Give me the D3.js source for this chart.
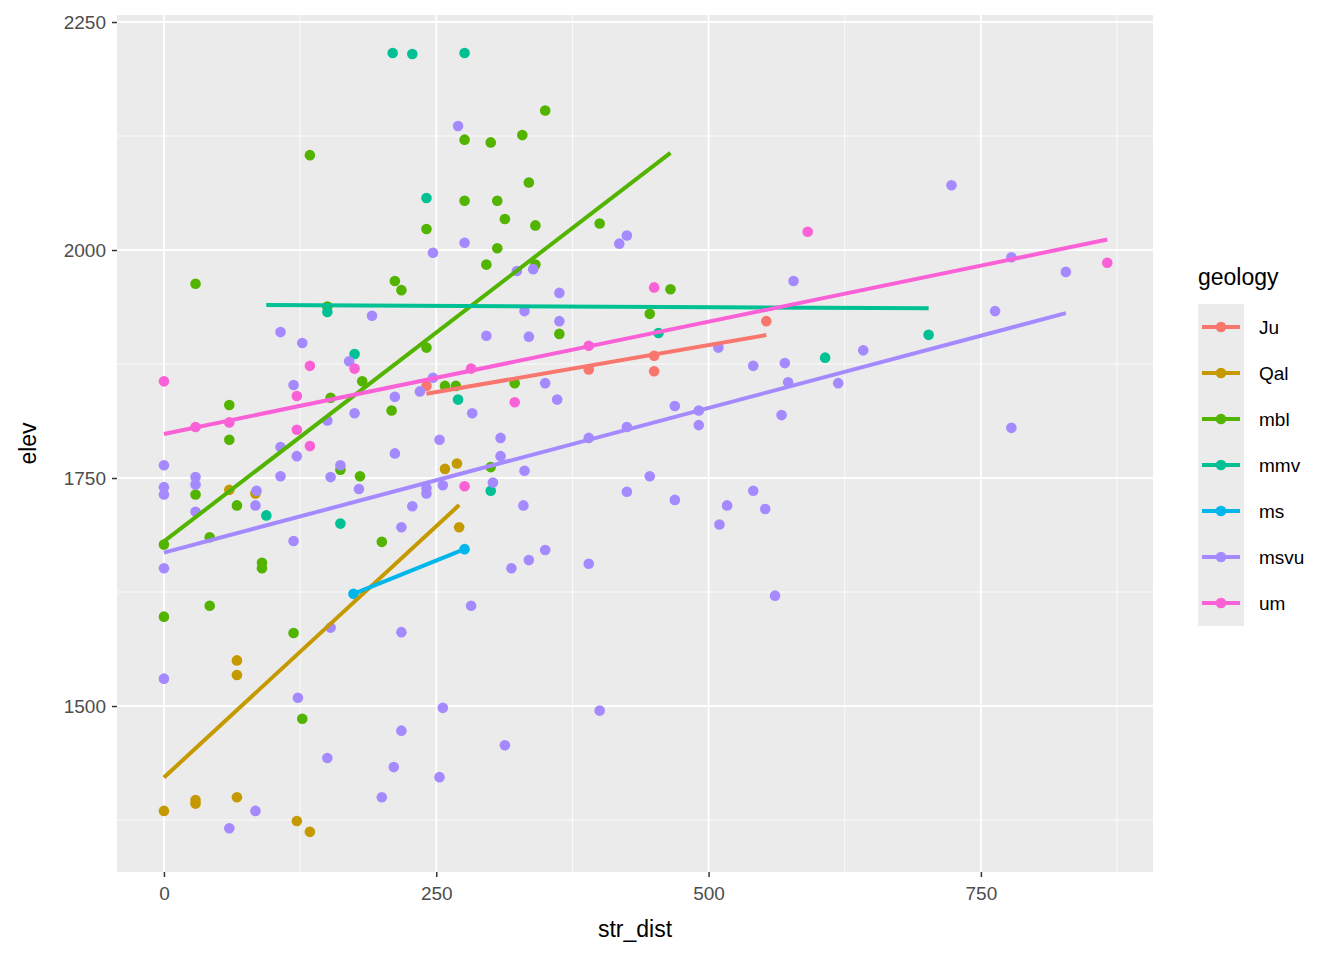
<!DOCTYPE html>
<html><head><meta charset="utf-8">
<script src="https://cdn.jsdelivr.net/npm/d3@7"></script>
<style>body{margin:0;background:#fff}</style>
</head><body><div class="chart"></div>
<script>
const geologies = ["Ju","Qal","mbl","mmv","ms","msvu","um"]
const colours = ["#F8766D","#C49A00","#53B400","#00C094","#00B6EB","#A58AFF","#FB61D7"]
const xTicks = [0,250,500,750]
const yTicks = [1500,1750,2000,2250]

// [str_dist, elev] per geology
const ju = [[241,1851],[390,1869],[450,1884],[450,1867],[553,1922]]
const qal = [[0,1385],[29,1397],[29,1393],[67,1400],[67,1550],[67,1534],[60,1737],[84,1733],[122,1374],[134,1362],[258,1760],[269,1766],[271,1696]]
const mbl = [[29,1963],[60,1830],[60,1792],[29,1732],[67,1720],[42,1685],[0,1677],[0,1598],[42,1610],[90,1657],[90,1651],[119,1580],[127,1486],[134,2104],[150,1938],[153,1838],[182,1856],[180,1752],[162,1759],[200,1680],[209,1824],[212,1966],[218,1956],[241,2023],[241,1893],[258,1851],[276,2121],[276,2054],[300,2118],[296,1984],[306,2054],[306,2002],[313,2034],[322,1854],[329,2126],[335,2074],[341,2027],[341,1984],[350,2153],[363,1908],[400,2029],[446,1930],[465,1957],[300,1762],[268,1851]]
const mmv = [[210,2216],[228,2215],[276,2216],[241,2057],[150,1932],[175,1886],[270,1836],[300,1736],[162,1700],[94,1709],[454,1909],[607,1882],[702,1907]]
const ms = [[174,1623],[276,1672]]
const msvu = [[0,1764],[0,1740],[0,1732],[0,1651],[0,1530],[29,1751],[29,1743],[29,1713],[85,1736],[84,1720],[60,1366],[84,1385],[107,1910],[107,1784],[107,1752],[119,1852],[119,1681],[122,1774],[127,1898],[123,1509],[150,1813],[153,1751],[153,1586],[150,1443],[162,1764],[170,1878],[175,1821],[179,1738],[191,1928],[212,1839],[212,1777],[218,1696],[218,1581],[218,1473],[211,1433],[200,1400],[228,1719],[235,1845],[241,1739],[241,1733],[247,1997],[247,1860],[253,1792],[256,1742],[256,1498],[253,1422],[270,2136],[276,2008],[283,1821],[282,1610],[296,1906],[302,1745],[309,1794],[309,1774],[313,1457],[319,1651],[324,1977],[331,1933],[331,1758],[330,1720],[335,1905],[335,1660],[339,1979],[350,1854],[350,1671],[363,1953],[363,1922],[361,1836],[390,1794],[390,1656],[400,1495],[418,2007],[425,2016],[425,1806],[425,1735],[446,1752],[469,1726],[469,1829],[491,1824],[491,1808],[509,1893],[510,1699],[517,1720],[541,1873],[541,1736],[552,1716],[561,1621],[567,1819],[570,1876],[573,1855],[578,1966],[619,1854],[642,1890],[723,2071],[763,1933],[778,1992],[778,1805],[828,1976]]
const um = [[0,1856],[29,1806],[60,1811],[122,1840],[122,1803],[134,1873],[134,1785],[175,1870],[276,1741],[282,1870],[322,1833],[390,1895],[450,1959],[591,2020],[866,1986]]

const groups = [ju,qal,mbl,mmv,ms,msvu,um]

const width = 1344, height = 960
const pL = 117, pR = 1153, pT = 15, pB = 872

const x = d3.scaleLinear().domain([-43.1, 908]).range([pL, pR])
const y = d3.scaleLinear().domain([1318, 2257.7]).range([pB, pT])
const color = d3.scaleOrdinal().domain(geologies).range(colours)

function fit(pts){
    const mx = d3.mean(pts, d => d[0]), my = d3.mean(pts, d => d[1])
    const b = d3.sum(pts, d => (d[0]-mx)*(d[1]-my)) / d3.sum(pts, d => (d[0]-mx)**2)
    const a = my - b*mx
    const [x0, x1] = d3.extent(pts, d => d[0])
    return [[x0, a + b*x0], [x1, a + b*x1]]
}

const svg = d3.select(".chart").append("svg")
    .attr("width", width).attr("height", height)
    .style("font-family", "Liberation Sans, Arial, sans-serif")

svg.append("rect").attr("x", pL).attr("y", pT)
    .attr("width", pR-pL).attr("height", pB-pT).attr("fill", "#EBEBEB")

const minorX = [125,375,625,875], minorY = [1375,1625,1875,2125]
svg.append("g").selectAll().data(minorX).join("line")
    .attr("x1", d => x(d)).attr("x2", d => x(d)).attr("y1", pT).attr("y2", pB)
    .attr("stroke", "#fff").attr("stroke-width", 0.8)
svg.append("g").selectAll().data(minorY).join("line")
    .attr("y1", d => y(d)).attr("y2", d => y(d)).attr("x1", pL).attr("x2", pR)
    .attr("stroke", "#fff").attr("stroke-width", 0.8)
svg.append("g").selectAll().data(xTicks).join("line")
    .attr("x1", d => x(d)).attr("x2", d => x(d)).attr("y1", pT).attr("y2", pB)
    .attr("stroke", "#fff").attr("stroke-width", 1.8)
svg.append("g").selectAll().data(yTicks).join("line")
    .attr("y1", d => y(d)).attr("y2", d => y(d)).attr("x1", pL).attr("x2", pR)
    .attr("stroke", "#fff").attr("stroke-width", 1.8)

// points
groups.forEach((pts, i) => {
    svg.append("g").selectAll().data(pts).join("circle")
        .attr("cx", d => x(d[0])).attr("cy", d => y(d[1])).attr("r", 5.3)
        .attr("fill", color(geologies[i]))
})

// lm lines
groups.forEach((pts, i) => {
    const seg = fit(pts)
    svg.append("line")
        .attr("x1", x(seg[0][0])).attr("y1", y(seg[0][1]))
        .attr("x2", x(seg[1][0])).attr("y2", y(seg[1][1]))
        .attr("stroke", color(geologies[i])).attr("stroke-width", 4)
})

// axes
const xAxis = svg.append("g").attr("transform", `translate(0,${pB})`)
    .call(d3.axisBottom(x).tickValues(xTicks).tickFormat(d3.format("d")).tickSize(5).tickPadding(10))
const yAxis = svg.append("g").attr("transform", `translate(${pL},0)`)
    .call(d3.axisLeft(y).tickValues(yTicks).tickFormat(d3.format("d")).tickSize(5).tickPadding(6))
;[xAxis, yAxis].forEach(g => {
    g.select(".domain").remove()
    g.selectAll("line").attr("stroke", "#333").attr("stroke-width", 1.5)
    g.selectAll("text").attr("fill", "#4D4D4D").style("font-size", "19px")
        .style("font-family", "Liberation Sans, Arial, sans-serif")
})

svg.append("text").attr("x", (pL+pR)/2).attr("y", 937).attr("text-anchor", "middle")
    .style("font-size", "23px").text("str_dist")
svg.append("text").attr("transform", `translate(36,${(pT+pB)/2}) rotate(-90)`)
    .attr("text-anchor", "middle").style("font-size", "23px").text("elev")

// legend
const leg = svg.append("g").attr("transform", "translate(1198,304)")
leg.append("text").attr("x", 0).attr("y", -19).style("font-size", "23px").text("geology")
const item = leg.selectAll().data(geologies).join("g")
    .attr("transform", (d, i) => `translate(0,${i*46})`)
item.append("rect").attr("width", 46).attr("height", 46).attr("fill", "#EBEBEB")
item.append("line").attr("x1", 4).attr("x2", 42).attr("y1", 23).attr("y2", 23)
    .attr("stroke", d => color(d)).attr("stroke-width", 4)
item.append("circle").attr("cx", 23).attr("cy", 23).attr("r", 5.3).attr("fill", d => color(d))
item.append("text").attr("x", 61).attr("y", 30).style("font-size", "19px").text(d => d)
</script>
</body></html>
